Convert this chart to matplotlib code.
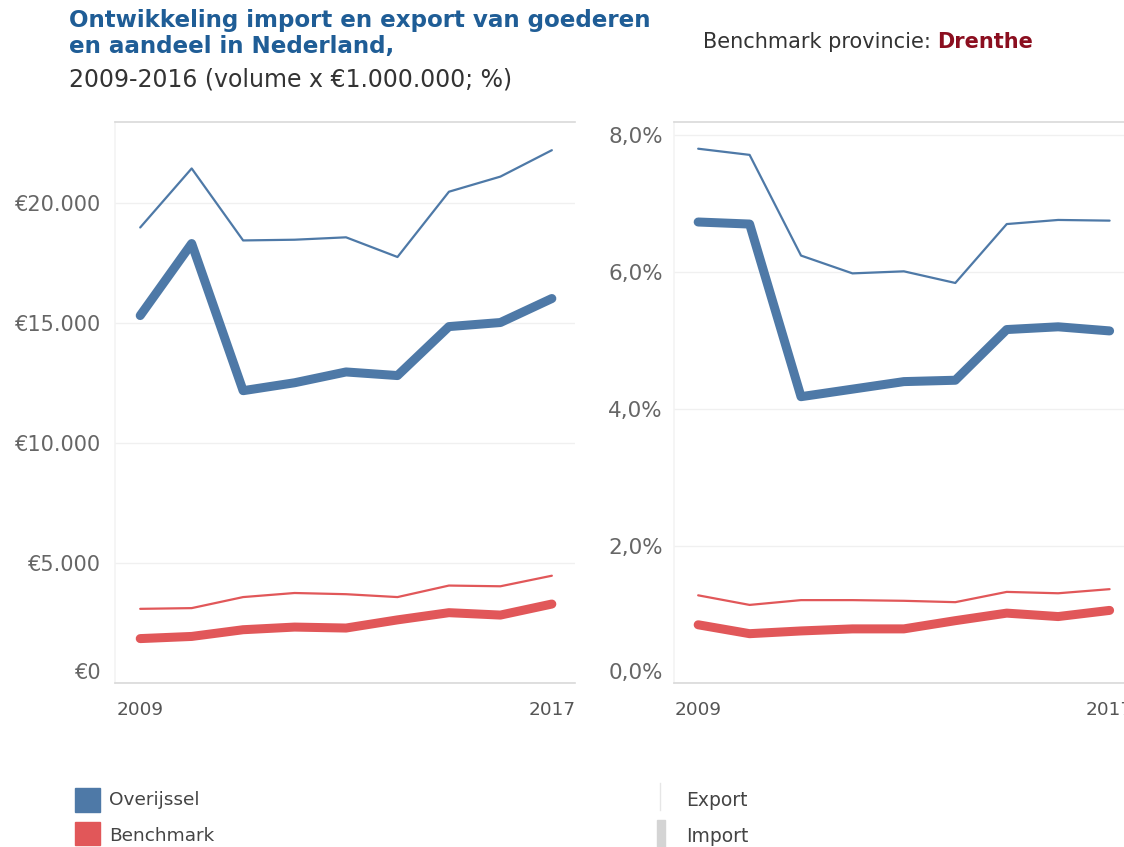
import matplotlib
matplotlib.use("Agg")
import matplotlib.pyplot as plt
from matplotlib.patches import Rectangle
from matplotlib.lines import Line2D

# ---------------- data ----------------
years = [2009, 2010, 2011, 2012, 2013, 2014, 2015, 2016, 2017]

# volume x EUR 1.000.000
ovr_export_vol = [18980, 21440, 18440, 18470, 18570, 17750, 20470, 21100, 22200]
ovr_import_vol = [15310, 18310, 12180, 12510, 12960, 12810, 14850, 15020, 16020]
bm_export_vol = [3090, 3120, 3580, 3750, 3700, 3580, 4060, 4030, 4470]
bm_import_vol = [1850, 1940, 2220, 2330, 2290, 2630, 2930, 2830, 3290]

# share of Netherlands (%)
ovr_export_pct = [7.80, 7.71, 6.24, 5.98, 6.01, 5.84, 6.70, 6.76, 6.75]
ovr_import_pct = [6.73, 6.70, 4.18, 4.29, 4.40, 4.42, 5.16, 5.20, 5.14]
bm_export_pct = [1.28, 1.14, 1.21, 1.21, 1.20, 1.18, 1.33, 1.31, 1.37]
bm_import_pct = [0.85, 0.72, 0.76, 0.79, 0.79, 0.91, 1.02, 0.97, 1.06]

vol_ticks = [0, 5000, 10000, 15000, 20000]
vol_tick_labels = ["€0", "€5.000", "€10.000", "€15.000", "€20.000"]
pct_ticks = [0, 2, 4, 6, 8]
pct_tick_labels = ["0,0%", "2,0%", "4,0%", "6,0%", "8,0%"]
x_tick_years = [2009, 2017]
x_tick_labels = ["2009", "2017"]

# ---------------- style ----------------
BLUE = "#4e79a7"
RED = "#e15759"
GRID = "#f0f0f0"
BORDER = "#d9d9d9"
TICK = "#666666"
THICK = 6.5
THIN = 1.6

W, H = 1124, 847
fig = plt.figure(figsize=(W / 100, H / 100), dpi=100)
plt.rcParams['font.family'] = ['DejaVu Sans']


def px_axes(x0, y0, x1, y1):
    return fig.add_axes([x0 / W, 1 - y1 / H, (x1 - x0) / W, (y1 - y0) / H])


def style(ax, ticks, labels, ylim, xlim, pad, ysize):
    ax.set_xlim(*xlim)
    ax.set_ylim(*ylim)
    ax.set_yticks(ticks)
    ax.set_yticklabels(labels)
    ax.set_xticks(x_tick_years)
    ax.set_xticklabels(x_tick_labels)
    ax.tick_params(axis='y', length=0, pad=pad, labelsize=ysize, labelcolor=TICK)
    ax.tick_params(axis='x', length=0, pad=13, labelsize=13.3, labelcolor="#555555")
    for lab in ax.get_yticklabels():
        if lab.get_text() in ("€0", "0,0%"):
            lab.set_verticalalignment('bottom')
    ax.grid(axis='y', color=GRID, lw=1)
    ax.set_axisbelow(True)
    ax.spines['right'].set_visible(False)
    ax.spines['top'].set_color(BORDER)
    ax.spines['bottom'].set_color(BORDER)
    ax.spines['left'].set_color("#f3f3f3")
    for s in ("top", "bottom", "left"):
        ax.spines[s].set_linewidth(1.2)


# left panel: volumes
ax1 = px_axes(115, 122, 575, 683)
ax1.plot(years, bm_export_vol, color=RED, lw=THIN, solid_capstyle='round')
ax1.plot(years, bm_import_vol, color=RED, lw=THICK, solid_capstyle='round', solid_joinstyle='round')
ax1.plot(years, ovr_export_vol, color=BLUE, lw=THIN, solid_capstyle='round')
ax1.plot(years, ovr_import_vol, color=BLUE, lw=THICK, solid_capstyle='round', solid_joinstyle='round')
style(ax1, vol_ticks, vol_tick_labels, (0, 23375), (2008.51, 2017.45), 10, 15)

# right panel: shares
ax2 = px_axes(674, 122, 1124, 683)
ax2.plot(years, bm_export_pct, color=RED, lw=THIN, solid_capstyle='round')
ax2.plot(years, bm_import_pct, color=RED, lw=THICK, solid_capstyle='round', solid_joinstyle='round')
ax2.plot(years, ovr_export_pct, color=BLUE, lw=THIN, solid_capstyle='round')
ax2.plot(years, ovr_import_pct, color=BLUE, lw=THICK, solid_capstyle='round', solid_joinstyle='round')
style(ax2, pct_ticks, pct_tick_labels, (0, 8.19), (2008.53, 2017.28), 8, 15.5)

# ---------------- titles ----------------
fig.text(69 / W, 1 - 20 / H, "Ontwikkeling import en export van goederen",
         fontsize=16.6, fontweight='bold', color="#1f5d96", va='center', ha='left')
fig.text(69 / W, 1 - 47 / H, "en aandeel in Nederland,",
         fontsize=16.6, fontweight='bold', color="#1f5d96", va='center', ha='left')
fig.text(69 / W, 1 - 80 / H, "2009-2016 (volume x €1.000.000; %)",
         fontsize=17, color="#333333", va='center', ha='left')
t = fig.text(703 / W, 1 - 42 / H, "Benchmark provincie: ",
             fontsize=15, color="#333333", va='center', ha='left')
fig.canvas.draw()
bb = t.get_window_extent()
fig.text(bb.x1 / W, 1 - 42 / H, "Drenthe", fontsize=15, fontweight='bold',
         color="#8b0e1f", va='center', ha='left')

# ---------------- legend ----------------
fig.patches.append(Rectangle((75 / W, 1 - 812 / H), 25 / W, 24 / H,
                             transform=fig.transFigure, color=BLUE))
fig.patches.append(Rectangle((75 / W, 1 - 845 / H), 25 / W, 23 / H,
                             transform=fig.transFigure, color=RED))
fig.text(109 / W, 1 - 800 / H, "Overijssel", fontsize=13.3, color="#444444", va='center')
fig.text(109 / W, 1 - 836 / H, "Benchmark", fontsize=13.3, color="#444444", va='center')
fig.lines.append(Line2D([660 / W, 660 / W], [1 - 783 / H, 1 - 810 / H],
                        transform=fig.transFigure, color="#e6e6e6", lw=1))
fig.patches.append(Rectangle((657 / W, 1 - 847 / H), 8 / W, 27 / H,
                             transform=fig.transFigure, color="#d4d4d4"))
fig.text(686 / W, 1 - 800 / H, "Export", fontsize=13.5, color="#444444", va='center')
fig.text(686 / W, 1 - 836 / H, "Import", fontsize=13.5, color="#444444", va='center')

fig.savefig("out.png", dpi=100)
